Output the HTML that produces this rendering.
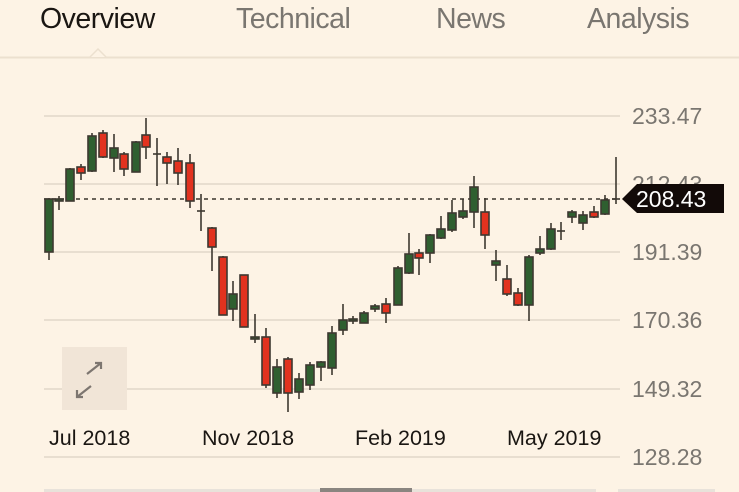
<!DOCTYPE html>
<html><head><meta charset="utf-8"><style>
html,body{margin:0;padding:0;background:#fdf3e5;width:739px;height:492px;overflow:hidden;font-family:"Liberation Sans",sans-serif}
.tab{position:absolute;top:3px;font-size:28.5px;color:#7a7670;letter-spacing:-0.5px}
</style></head><body>
<div class="tab" style="left:40px;color:#1a1612">Overview</div>
<div class="tab" style="left:236px">Technical</div>
<div class="tab" style="left:436px">News</div>
<div class="tab" style="left:587px">Analysis</div>
<svg width="739" height="492" style="position:absolute;left:0;top:0" xmlns="http://www.w3.org/2000/svg">
<line x1="0" y1="57.5" x2="739" y2="57.5" stroke="#ece0cf" stroke-width="2"/>
<path d="M90 57 L98 49 L106 57" fill="#fdf3e5" stroke="#ece0cf" stroke-width="1.5"/>
<g stroke="#dcd2c4" stroke-width="1.2">
<line x1="44" y1="116" x2="620" y2="116"/><line x1="44" y1="184" x2="620" y2="184"/>
<line x1="44" y1="252" x2="620" y2="252"/><line x1="44" y1="320" x2="620" y2="320"/>
<line x1="44" y1="389" x2="620" y2="389"/><line x1="44" y1="457" x2="620" y2="457"/>
</g>
<g font-size="23" fill="#7a7670" font-family="Liberation Sans,sans-serif">
<text x="632" y="124">233.47</text><text x="632" y="192">212.43</text>
<text x="632" y="260">191.39</text><text x="632" y="328">170.36</text>
<text x="632" y="397">149.32</text><text x="632" y="465">128.28</text>
</g>
<g font-size="21.5" fill="#1a1612" font-family="Liberation Sans,sans-serif">
<text x="49" y="445">Jul 2018</text><text x="202" y="445">Nov 2018</text>
<text x="355" y="445">Feb 2019</text><text x="507" y="445">May 2019</text>
</g>
<rect x="62" y="347" width="65" height="63" fill="#f1e5d7"/>
<g stroke="#7d7670" stroke-width="2.2" fill="none">
<path d="M87 374 L101 363 M95 363 L101 363 L101 369"/>
<path d="M77 397 L91 386 M77 390 L77 397 L83 397"/>
</g>
<line x1="44" y1="199" x2="620" y2="199" stroke="#3a342c" stroke-width="1.5" stroke-dasharray="4,4"/>
<g stroke="#3d3830" stroke-width="1.6">
<line x1="49" y1="198" x2="49" y2="260"/><rect x="45" y="199" width="8" height="53" fill="#2f5f30"/>
<line x1="59" y1="196" x2="59" y2="210"/><rect x="55" y="199" width="8" height="2" fill="#2f5f30"/>
<line x1="70" y1="168" x2="70" y2="201"/><rect x="66" y="169" width="8" height="32" fill="#2f5f30"/>
<line x1="81" y1="164" x2="81" y2="180"/><rect x="77" y="167" width="8" height="6" fill="#e2321f"/>
<line x1="92" y1="133" x2="92" y2="172"/><rect x="88" y="136" width="8" height="35" fill="#2f5f30"/>
<line x1="103" y1="130" x2="103" y2="158"/><rect x="99" y="133" width="8" height="24" fill="#e2321f"/>
<line x1="114" y1="134" x2="114" y2="172"/><rect x="110" y="148" width="8" height="10" fill="#2f5f30"/>
<line x1="124" y1="152" x2="124" y2="176"/><rect x="120" y="154" width="8" height="15" fill="#e2321f"/>
<line x1="136" y1="141" x2="136" y2="172"/><rect x="132" y="142" width="8" height="30" fill="#2f5f30"/>
<line x1="146" y1="118" x2="146" y2="159"/><rect x="142" y="135" width="8" height="12" fill="#e2321f"/>
<line x1="157" y1="138" x2="157" y2="186"/><line x1="153" y1="154" x2="161" y2="154"/>
<line x1="167" y1="152" x2="167" y2="184"/><rect x="163" y="157" width="8" height="6" fill="#e2321f"/>
<line x1="178" y1="148" x2="178" y2="185"/><rect x="174" y="161" width="8" height="12" fill="#e2321f"/>
<line x1="190" y1="154" x2="190" y2="208"/><rect x="186" y="163" width="8" height="38" fill="#e2321f"/>
<line x1="201" y1="194" x2="201" y2="231"/><line x1="197" y1="211" x2="205" y2="211"/>
<line x1="212" y1="227" x2="212" y2="271"/><rect x="208" y="228" width="8" height="19" fill="#e2321f"/>
<line x1="223" y1="256" x2="223" y2="315"/><rect x="219" y="257" width="8" height="58" fill="#e2321f"/>
<line x1="233" y1="281" x2="233" y2="321"/><rect x="229" y="294" width="8" height="15" fill="#2f5f30"/>
<line x1="244" y1="275" x2="244" y2="327"/><rect x="240" y="275" width="8" height="52" fill="#e2321f"/>
<line x1="255" y1="314" x2="255" y2="343"/><rect x="251" y="337" width="8" height="2" fill="#2f5f30"/>
<line x1="266" y1="328" x2="266" y2="388"/><rect x="262" y="337" width="8" height="48" fill="#e2321f"/>
<line x1="277" y1="359" x2="277" y2="398"/><rect x="273" y="367" width="8" height="26" fill="#2f5f30"/>
<line x1="288" y1="357" x2="288" y2="412"/><rect x="284" y="359" width="8" height="34" fill="#e2321f"/>
<line x1="299" y1="373" x2="299" y2="399"/><rect x="295" y="379" width="8" height="13" fill="#2f5f30"/>
<line x1="310" y1="362" x2="310" y2="390"/><rect x="306" y="365" width="8" height="20" fill="#2f5f30"/>
<line x1="321" y1="361" x2="321" y2="381"/><rect x="317" y="362" width="8" height="5" fill="#2f5f30"/>
<line x1="332" y1="326" x2="332" y2="375"/><rect x="328" y="333" width="8" height="35" fill="#2f5f30"/>
<line x1="343" y1="304" x2="343" y2="335"/><rect x="339" y="320" width="8" height="10" fill="#2f5f30"/>
<line x1="353" y1="316" x2="353" y2="324"/><rect x="349" y="319" width="8" height="2" fill="#2f5f30"/>
<line x1="364" y1="311" x2="364" y2="323"/><rect x="360" y="313" width="8" height="10" fill="#2f5f30"/>
<line x1="375" y1="304" x2="375" y2="312"/><rect x="371" y="306" width="8" height="3" fill="#2f5f30"/>
<line x1="386" y1="298" x2="386" y2="323"/><rect x="382" y="304" width="8" height="9" fill="#e2321f"/>
<line x1="398" y1="266" x2="398" y2="305"/><rect x="394" y="268" width="8" height="37" fill="#2f5f30"/>
<line x1="409" y1="233" x2="409" y2="274"/><rect x="405" y="254" width="8" height="19" fill="#2f5f30"/>
<line x1="419" y1="249" x2="419" y2="275"/><rect x="415" y="253" width="8" height="5" fill="#e2321f"/>
<line x1="430" y1="234" x2="430" y2="263"/><rect x="426" y="235" width="8" height="18" fill="#2f5f30"/>
<line x1="441" y1="216" x2="441" y2="239"/><rect x="437" y="229" width="8" height="9" fill="#2f5f30"/>
<line x1="452" y1="200" x2="452" y2="232"/><rect x="448" y="213" width="8" height="17" fill="#2f5f30"/>
<line x1="463" y1="199" x2="463" y2="219"/><rect x="459" y="211" width="8" height="6" fill="#2f5f30"/>
<line x1="474" y1="176" x2="474" y2="228"/><rect x="470" y="187" width="8" height="25" fill="#2f5f30"/>
<line x1="485" y1="198" x2="485" y2="249"/><rect x="481" y="212" width="8" height="23" fill="#e2321f"/>
<line x1="496" y1="250" x2="496" y2="281"/><rect x="492" y="261" width="8" height="4" fill="#2f5f30"/>
<line x1="507" y1="265" x2="507" y2="296"/><rect x="503" y="279" width="8" height="15" fill="#e2321f"/>
<line x1="518" y1="288" x2="518" y2="306"/><rect x="514" y="293" width="8" height="12" fill="#e2321f"/>
<line x1="529" y1="255" x2="529" y2="321"/><rect x="525" y="257" width="8" height="48" fill="#2f5f30"/>
<line x1="540" y1="236" x2="540" y2="255"/><rect x="536" y="249" width="8" height="4" fill="#2f5f30"/>
<line x1="551" y1="223" x2="551" y2="250"/><rect x="547" y="229" width="8" height="20" fill="#2f5f30"/>
<line x1="561" y1="222" x2="561" y2="240"/><line x1="557" y1="231" x2="565" y2="231"/>
<line x1="572" y1="210" x2="572" y2="223"/><rect x="568" y="212" width="8" height="5" fill="#2f5f30"/>
<line x1="583" y1="211" x2="583" y2="230"/><rect x="579" y="215" width="8" height="8" fill="#2f5f30"/>
<line x1="594" y1="206" x2="594" y2="218"/><rect x="590" y="212" width="8" height="5" fill="#e2321f"/>
<line x1="605" y1="195" x2="605" y2="215"/><rect x="601" y="200" width="8" height="14" fill="#2f5f30"/>
<line x1="616" y1="157" x2="616" y2="204"/><line x1="612" y1="199" x2="620" y2="199"/>
</g>
<path d="M622 199 L637 184 L724 184 L724 213 L637 213 Z" fill="#120a08"/>
<text x="636" y="207" font-size="23" fill="#fff" font-family="Liberation Sans,sans-serif">208.43</text>
<rect x="44" y="489" width="552" height="4" fill="#e8e2da"/>
<rect x="320" y="488" width="92" height="5" fill="#8a8580"/>
<rect x="618" y="489" width="97" height="4" fill="#e8e2da"/>
</svg>
</body></html>
